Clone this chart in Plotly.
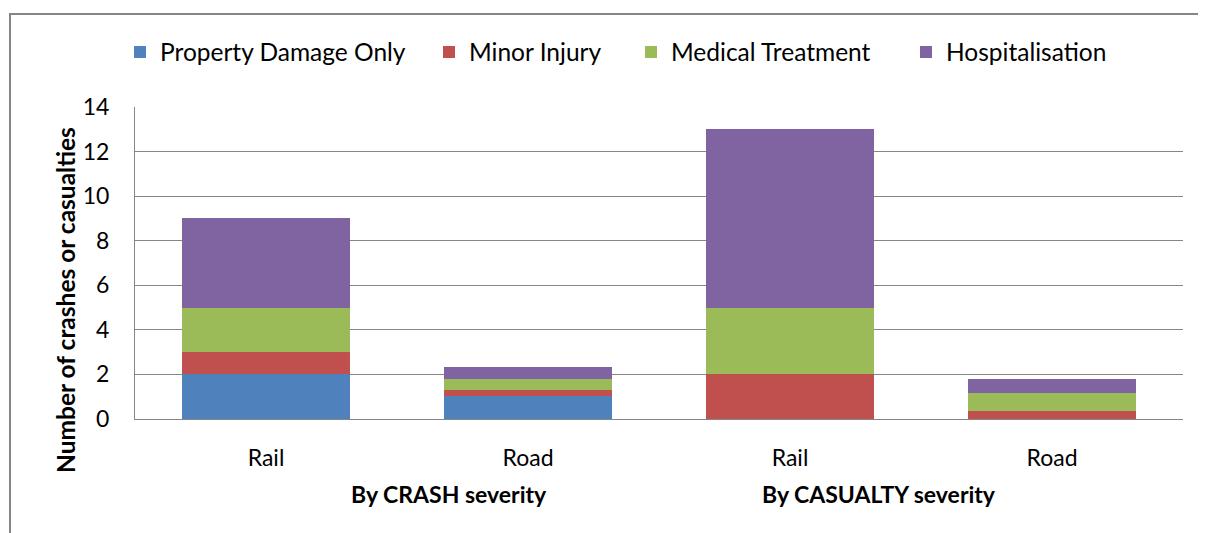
import plotly.graph_objects as go

group_labels = ["By CRASH severity", "By CASUALTY severity"]
modes = ["Rail", "Road", "Rail", "Road"]
positions = [0, 1, 2, 3]

property_damage = [2, 1.05, 0, 0]
minor_injury = [1, 0.25, 2, 0.37]
medical_treatment = [2, 0.51, 3, 0.78]
hospitalisation = [4, 0.52, 8, 0.64]

series = [
    ("Property Damage Only", property_damage, "#4F81BD"),
    ("Minor Injury", minor_injury, "#C0504D"),
    ("Medical Treatment", medical_treatment, "#9BBB59"),
    ("Hospitalisation", hospitalisation, "#8064A2"),
]

FONT = "Lato, 'Open Sans', sans-serif"

# page is drawn with an 8px offset, so shift the layout accordingly
L, T, W, H = 127, 99, 1048, 312
R, B = 1206 - L - W, 533 - T - H

legend_ids = ["legend", "legend2", "legend3", "legend4"]
legend_px = [112, 421, 623, 898]

fig = go.Figure()
for (name, vals, col), lid in zip(series, legend_ids):
    fig.add_trace(go.Bar(
        x=positions, y=vals, name=name, legend=lid,
        marker=dict(color=col, line=dict(width=0)),
        width=0.64,
    ))

group_x = [0.70, 2.34]
annotations = []
for g, gx in zip(group_labels, group_x):
    annotations.append(dict(
        text="<b>%s</b>" % g, x=gx, xref="x",
        y=(T + H - 486) / H, yref="paper", showarrow=False,
        xanchor="center", yanchor="middle", font=dict(size=23)))
annotations.append(dict(
    text="<b>Number of crashes or casualties</b>", textangle=-90,
    x=(57 - L) / W, xref="paper", y=(T + H - 292) / H, yref="paper",
    showarrow=False, xanchor="center", yanchor="middle",
    font=dict(size=24.5)))

legends = {}
for lid, px in zip(legend_ids, legend_px):
    legends[lid] = dict(orientation="h", x=(px - L) / W, y=(T + H - 44) / H,
                        xanchor="left", yanchor="middle",
                        font=dict(size=24.5), itemwidth=30,
                        bgcolor="rgba(0,0,0,0)")

fig.update_layout(
    width=1206, height=533,
    barmode="stack",
    paper_bgcolor="white", plot_bgcolor="white",
    margin=dict(l=L, r=R, t=T, b=B),
    font=dict(family=FONT, size=23, color="black"),
    showlegend=True,
    xaxis=dict(
        range=[-0.5, 3.5], tickvals=positions, ticktext=modes,
        showgrid=False, showline=True, linecolor="#868686", linewidth=1,
        ticks="outside", ticklen=18, tickcolor="rgba(0,0,0,0)",
        tickfont=dict(size=23), zeroline=False,
    ),
    yaxis=dict(
        range=[0, 14], dtick=2, tick0=0,
        showgrid=True, gridcolor="#868686", gridwidth=1,
        showline=True, linecolor="#868686", linewidth=1,
        ticks="outside", ticklen=20, tickcolor="rgba(0,0,0,0)",
        tickfont=dict(size=23), zeroline=False,
    ),
    annotations=annotations,
    shapes=[dict(type="rect", xref="paper", yref="paper",
                 x0=(2 - L) / W, x1=(1215 - L) / W,
                 y0=(T + H - 545) / H, y1=(T + H - 6) / H,
                 line=dict(color="#868686", width=2), fillcolor="rgba(0,0,0,0)",
                 layer="below")],
    **legends,
)

fig.write_html("out.html")
